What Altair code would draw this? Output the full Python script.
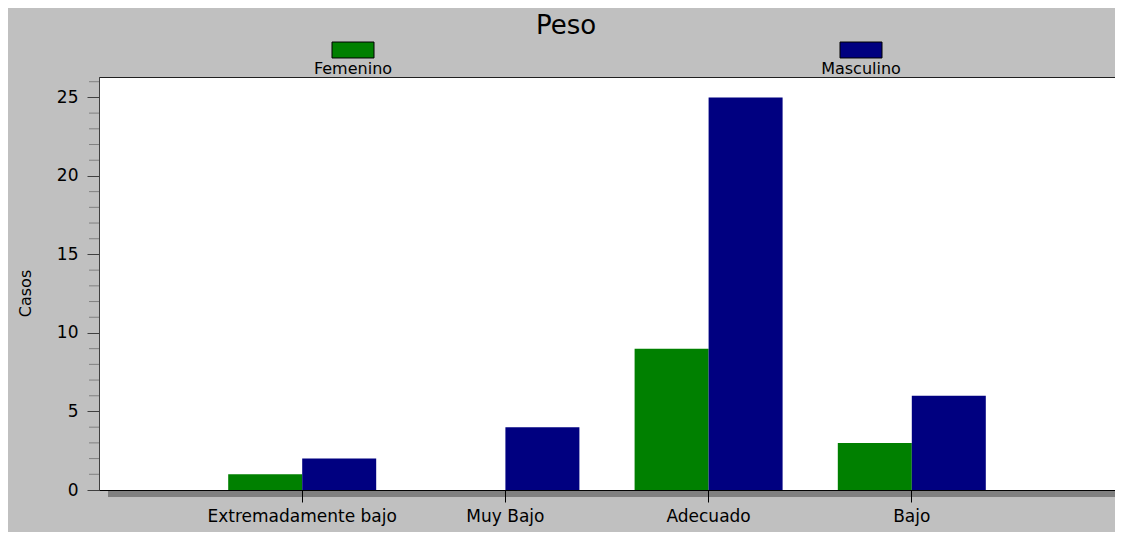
import altair as alt
import pandas as pd

categories = ["Extremadamente bajo", "Muy Bajo", "Adecuado", "Bajo"]
series = ["Femenino", "Masculino"]
femenino = [1, 0, 9, 3]
masculino = [2, 4, 25, 6]
colors = ["#008000", "#000080"]
major_ticks = [0, 5, 10, 15, 20, 25]
minor_ticks = [1, 2, 3, 4, 6, 7, 8, 9, 11, 12, 13, 14, 16, 17, 18, 19, 21, 22, 23, 24, 26]

rows = []
for i, c in enumerate(categories):
    rows.append({"categoria": c, "sexo": series[0], "casos": femenino[i]})
    rows.append({"categoria": c, "sexo": series[1], "casos": masculino[i]})
df = pd.DataFrame(rows)

W, H = 1016, 413
FONT = "DejaVu Sans"

color_scale = alt.Scale(domain=series, range=colors)
y_axis = alt.Axis(values=major_ticks, title="Casos", tickSize=12, grid=False,
                  labelPadding=9, labelFontSize=17, labelFont=FONT, labelColor="#000000",
                  domainColor="#404040", tickColor="#404040",
                  titleFont=FONT, titleFontSize=16, titleFontWeight="normal",
                  titleColor="#000000", titleX=-74, titleY=216,
                  titleAlign="center", titleBaseline="middle", titleAngle=270, zindex=1)
y_scale = alt.Scale(domain=[0, 26.3], nice=False)

bars = alt.Chart(df).mark_bar().encode(
    x=alt.X(
        "categoria:N", sort=categories,
        scale=alt.Scale(paddingInner=0, paddingOuter=0.5),
        axis=alt.Axis(title=None, labelAngle=0, tickSize=12, labelPadding=6,
                      domainColor="#000000", tickColor="#000000", labelLimit=400,
                      labelFontSize=17, labelColor="#000000", labelFont=FONT, zindex=1),
    ),
    xOffset=alt.XOffset("sexo:N", sort=series,
                        scale=alt.Scale(paddingInner=0, paddingOuter=0.373)),
    y=alt.Y("casos:Q", scale=y_scale, axis=y_axis),
    color=alt.Color("sexo:N", scale=color_scale, legend=None),
)

minor = alt.Chart(alt.Data(values=[{"casos": v} for v in minor_ticks])).mark_rule(
    color="#808080", strokeWidth=1
).encode(
    y=alt.Y("casos:Q", scale=y_scale, axis=y_axis),
    x=alt.value(-10),
    x2=alt.value(0),
)

shadow = alt.Chart(alt.Data(values=[{}])).mark_rect(color="#808080").encode(
    x=alt.value(9), x2=alt.value(W), y=alt.value(H + 1), y2=alt.value(H + 7)
)

leg_df = pd.DataFrame({"sexo": series})
leg_x = alt.X("sexo:N", sort=series,
              scale=alt.Scale(paddingInner=0, paddingOuter=0), axis=None)

leg_sym = alt.Chart(leg_df).mark_point(
    shape="M-1,-0.38H1V0.38H-1Z", size=1764, filled=True,
    stroke="#000000", strokeWidth=1, opacity=1
).encode(
    x=leg_x, y=alt.value(-27),
    color=alt.Color("sexo:N", scale=color_scale, legend=None),
)

leg_txt = alt.Chart(leg_df).mark_text(
    fontSize=16, font=FONT, baseline="middle", color="#000000"
).encode(x=leg_x, y=alt.value(-8), text="sexo:N")

chart = alt.layer(shadow, bars, minor, leg_sym, leg_txt).resolve_scale(
    x="independent"
).properties(
    width=W, height=H,
    title=alt.TitleParams("Peso", fontSize=26, font=FONT, fontWeight="normal",
                          color="#000000", anchor="middle", frame="bounds", offset=1),
    autosize=alt.AutoSizeParams(type="none"),
    padding={"left": 91, "top": 69, "right": 0, "bottom": 42},
    background="#c0c0c0",
).configure_view(stroke="#202020", strokeWidth=1, fill="#ffffff")

chart.save("out.html", embed_options={"renderer": "svg", "actions": False})
